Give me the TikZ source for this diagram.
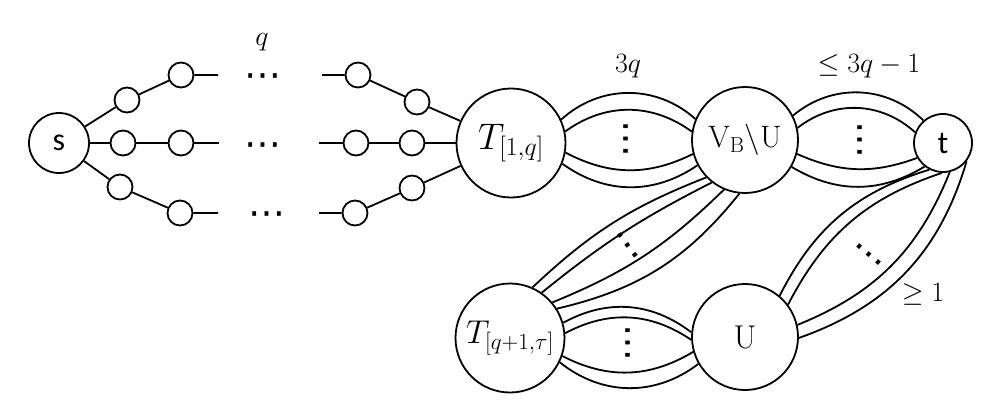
\RequirePackage{fix-cm}
\documentclass[tikz,border=0pt]{standalone}
\usepackage{fontspec}
\newfontfamily\calib{Carlito}
\newfontfamily\dejavu{DejaVu Sans}
\tikzset{
  bignode/.style={circle, draw, fill=white, line width=1.8pt, inner sep=0pt, minimum size=#1, font=\fontsize{33}{38}\selectfont},
  endnode/.style={circle, draw, fill=white, line width=1.8pt, inner sep=0pt, minimum size=#1, font=\calib\fontsize{32}{38}\selectfont},
  smallc/.style={circle, draw, fill=white, line width=1.8pt, inner sep=0pt, minimum size=25pt},
  wire/.style={line width=1.8pt},
  pipe/.style={line width=1.8pt},
  dotst/.style={font=\dejavu\fontsize{37}{37}\selectfont, inner sep=0pt},
  lab/.style={font=\fontsize{28}{32}\selectfont, inner sep=0pt}
}
\newcommand{\mydots}{\smash{\raisebox{-0.34em}{⋯}}}
\begin{document}
\begin{tikzpicture}[x=1pt,y=-1pt]
\useasboundingbox (0,0) rectangle (990,408);
% main nodes
\node[endnode=60pt] (s) at (59,143) {s};
\node[bignode=109pt, font=\fontsize{37}{40}\selectfont] (T1) at (511,143) {$T_{[1,q]}$};
\node[bignode=106pt, font=\fontsize{31}{36}\selectfont] (VB) at (745,140) {$\mathrm{V}_{\mathrm{B}}\backslash\mathrm{U}$};
\node[endnode=58pt] (t) at (943,143) {t};
\node[bignode=109pt] (T2) at (510,338) {$T_{[q+1,\tau]}$};
\node[bignode=106pt] (U) at (745,337) {$\mathrm{U}$};
% small chain nodes
\node[smallc] (a1) at (127,100) {};
\node[smallc] (a2) at (181,75) {};
\coordinate (a3) at (218,75);
\coordinate (b3) at (322,75);
\node[smallc] (b2) at (358,75) {};
\node[smallc] (b1) at (417,102) {};
\node[smallc] (m1) at (123,143) {};
\node[smallc] (m2) at (181,143) {};
\coordinate (m3) at (219,143);
\coordinate (n3) at (319,143);
\node[smallc] (n2) at (356,143) {};
\node[smallc] (n1) at (412,143) {};
\node[smallc] (c1) at (120,187) {};
\node[smallc] (c2) at (180,213) {};
\coordinate (c3) at (218,213);
\coordinate (d3) at (319,213);
\node[smallc] (d2) at (355,213) {};
\node[smallc] (d1) at (412,188) {};
% chains
\draw[wire] (s) -- (a1) -- (a2) -- (a3);
\draw[wire] (b3) -- (b2) -- (b1) -- (T1);
\draw[wire] (s) -- (m1) -- (m2) -- (m3);
\draw[wire] (n3) -- (n2) -- (n1) -- (T1);
\draw[wire] (s) -- (c1) -- (c2) -- (c3);
\draw[wire] (d3) -- (d2) -- (d1) -- (T1);
% T1 - VB
\draw[pipe] (T1.25) to[bend left=42] (VB.157);
\draw[pipe] (T1.12) to[bend left=36] (VB.171);
\draw[pipe] (T1.-10) to[bend right=27] (VB.195);
\draw[pipe] (T1.-22) to[bend right=35] (VB.208);
% VB - t
\draw[pipe] (VB.27) to[bend left=42] (t.131);
\draw[pipe] (VB.13) to[bend left=40] (t.159);
\draw[pipe] (VB.-15) to[bend right=22] (t.210);
\draw[pipe] (VB.-30) to[bend right=31] (t.232);
% T2 - U
\draw[pipe] (T2.16) to[bend left=33] (U.175);
\draw[pipe] (T2.5) to[bend left=31] (U.183);
\draw[pipe] (T2.-19) to[bend right=29] (U.196);
\draw[pipe] (T2.-26) to[bend right=38] (U.210);
% T2 - VB
\draw[pipe] (T2.66) to[bend left=11] (VB.224);
\draw[pipe] (T2.55) to[bend left=6] (VB.232);
\draw[pipe] (T2.40) to[bend right=11] (VB.247);
\draw[pipe] (T2.32) to[bend right=19] (VB.264);
% U - t
\draw[pipe] (U.50) to[bend left=23] (t.243);
\draw[pipe] (U.37) to[bend left=22] (t.268);
\draw[pipe] (U.13) to[bend right=23] (t.283);
\draw[pipe] (U.-1) to[bend right=27] (t.322);
% dots
\node[dotst] (h1) at (263,75) {\mydots};
\node[dotst] (h2) at (263,144) {\mydots};
\node[dotst] (h3) at (267,213) {\mydots};
\node[dotst, rotate=-90] (v1) at (627,139) {\mydots};
\node[dotst, rotate=-90] (v2) at (861,140) {\mydots};
\node[dotst, rotate=-90] (v3) at (629,343) {\mydots};
\node[dotst, rotate=-53] (g1) at (629,245) {\mydots};
\node[dotst, rotate=-40] (g2) at (869.5,253.5) {\mydots};
% labels
\node[lab] (lq) at (262,42) {$q$};
\node[lab] (l3q) at (628,66) {$3q$};
\node[lab] (lle) at (869,66) {$\leq 3q-1$};
\node[lab] (lge) at (923,294) {$\geq 1$};
\end{tikzpicture}
\end{document}
